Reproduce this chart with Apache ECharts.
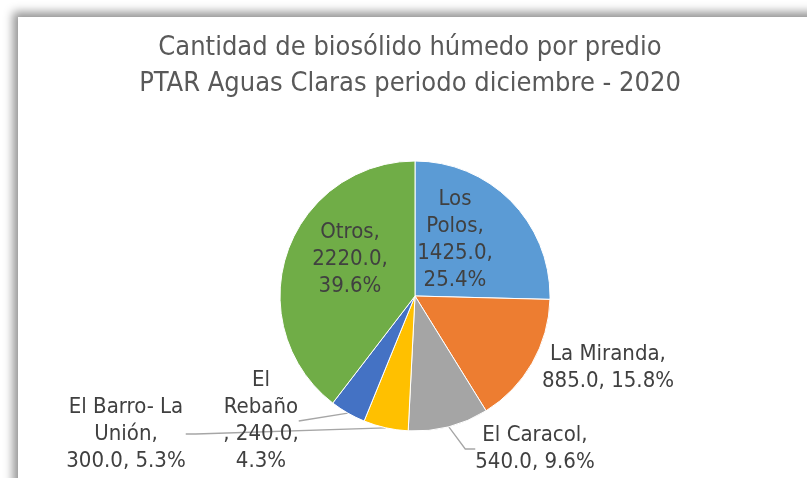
<!DOCTYPE html>
<html>
<head>
<meta charset="utf-8">
<script src="https://cdn.jsdelivr.net/npm/echarts@6/dist/echarts.min.js"></script>
<style>
  html, body { margin: 0; padding: 0; background: #ffffff; }
  #frame {
    position: absolute; left: 18px; top: 17px; width: 830px; height: 510px;
    background: #ffffff;
    box-shadow: -5px -5px 9px rgba(0, 0, 0, 0.42);
  }
  #chart { position: absolute; left: 0; top: 0; width: 807px; height: 478px; }
</style>
</head>
<body>
<div id="frame"></div>
<div id="chart"></div>
<script>
const categories = ["Los Polos", "La Miranda", "El Caracol", "El Barro- La Unión", "El Rebaño", "Otros"];
const values = [1425, 885, 540, 300, 240, 2220];
const colors = ["#5B9BD5", "#ED7D31", "#A5A5A5", "#FFC000", "#4472C4", "#70AD47"];
// how Excel wrapped each label ({c} = value, {d} = percent)
const labelTemplates = [
  "Los\nPolos,\n{c},\n{d}%",
  "La Miranda,\n{c}, {d}%",
  "El Caracol,\n{c}, {d}%",
  "El Barro- La\nUnión,\n{c}, {d}%",
  "El\nRebaño\n, {c},\n{d}%",
  "Otros,\n{c},\n{d}%",
];
const insideLabels = [true, false, false, false, false, true];
// label block centres (page px) and leader lines per slice
const labelSpots = [[455, 240], [608, 368], [535, 449], [126, 434], [261, 421], [350, 259]];
const showLeader = [false, false, true, true, true, false];
const leaderLength = [10, 10, 10, 10, 0, 10];

const FONT = "'DejaVu Sans Condensed', 'DejaVu Sans', sans-serif";
const total = values.reduce((a, b) => a + b, 0);

const chart = echarts.init(document.getElementById("chart"), null, { renderer: "canvas" });

chart.setOption({
  animation: false,
  title: {
    text: "Cantidad de biosólido húmedo por predio\nPTAR Aguas Claras periodo diciembre - 2020",
    left: 410,
    top: 30,
    padding: 0,
    textAlign: "center",
    textStyle: {
      fontFamily: FONT,
      fontSize: 27,
      fontWeight: "normal",
      lineHeight: 36,
      color: "#595959",
    },
  },
  series: [
    {
      type: "pie",
      center: [415, 296],
      radius: [0, 135],
      startAngle: 90,
      clockwise: true,
      avoidLabelOverlap: false,
      itemStyle: { borderColor: "#ffffff", borderWidth: 1 },
      label: {
        fontFamily: FONT,
        fontSize: 22,
        lineHeight: 27,
        color: "#404040",
        align: "center",
        formatter: (p) => labelTemplates[p.dataIndex]
          .replace("{c}", p.value.toFixed(1))
          .replace("{d}", (p.value / total * 100).toFixed(1)),
      },
      labelLine: {
        show: true,
        length: 10,
        length2: 10,
        lineStyle: { color: "#A6A6A6", width: 1.3 },
      },
      labelLayout: (p) => ({
        x: labelSpots[p.dataIndex][0],
        y: labelSpots[p.dataIndex][1],
        align: "center",
        verticalAlign: "middle",
      }),
      data: categories.map((name, i) => ({
        name,
        value: values[i],
        itemStyle: { color: colors[i] },
        label: { position: insideLabels[i] ? "inside" : "outside" },
        labelLine: { show: showLeader[i], length: leaderLength[i], length2: leaderLength[i] },
      })),
    },
  ],
});
</script>
</body>
</html>
